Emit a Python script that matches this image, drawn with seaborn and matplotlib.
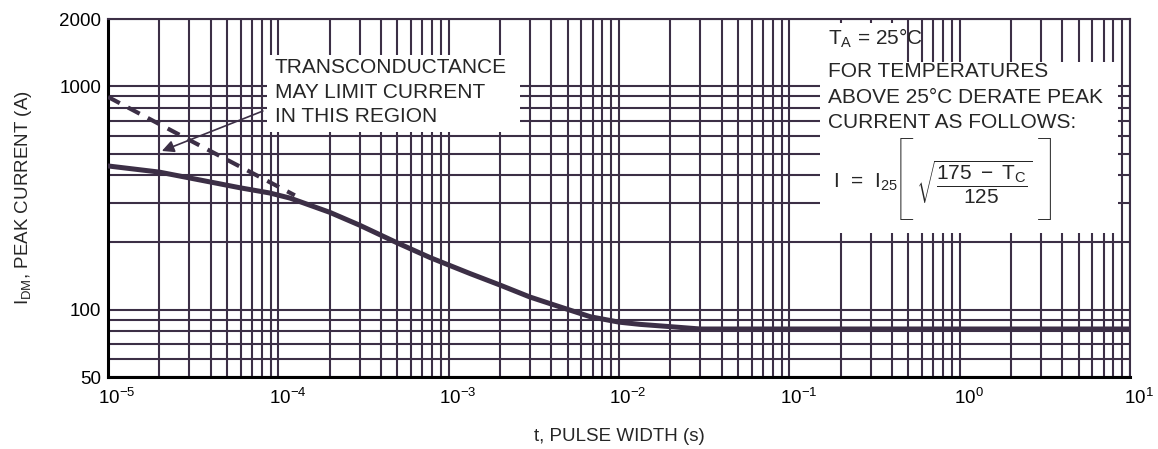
import numpy as np
import seaborn as sns
import matplotlib.pyplot as plt
import matplotlib.transforms as mtransforms
from matplotlib.patches import Rectangle
from matplotlib.ticker import FixedLocator, FixedFormatter, LogLocator, NullFormatter

DARK = '#3c2f46'

# maximum peak current curve
pulse_t = [1e-5, 2e-5, 3e-5, 6e-5, 8.9e-5, 1.17e-4, 2e-4, 3e-4, 5e-4, 7.8e-4,
           1.34e-3, 2e-3, 3e-3, 4.5e-3, 6.8e-3, 1e-2, 1.33e-2, 2e-2, 3e-2, 1e-1, 1.0, 10.0]
peak_i = [440, 413, 389, 351, 333, 316, 273, 239, 199, 171,
          145, 129, 114, 103, 93, 88, 86, 84, 82, 82, 82, 82]

# transconductance limit (dashed)
limit_t = [1e-5, 3e-5, 1.25e-4]
limit_i = [896, 575, 325]

x_major = [1e-5, 1e-4, 1e-3, 1e-2, 1e-1, 1e0, 1e1]
y_major = [50, 100, 1000, 2000]
y_minor = [60, 70, 80, 90, 200, 300, 400, 500, 600, 700, 800, 900]

sns.set_style("white")
plt.rcParams['font.family'] = ['Liberation Sans', 'DejaVu Sans']
plt.rcParams['mathtext.fontset'] = 'custom'
plt.rcParams['mathtext.rm'] = 'Liberation Sans'
plt.rcParams['mathtext.it'] = 'Liberation Sans:italic'
plt.rcParams['mathtext.bf'] = 'Liberation Sans:bold'

fig, ax = plt.subplots(figsize=(11.58, 4.49), dpi=100)
fig.subplots_adjust(left=108 / 1158, right=1130 / 1158, top=1 - 19 / 449, bottom=1 - 377 / 449)

sns.lineplot(x=pulse_t, y=peak_i, ax=ax, color=DARK, lw=3.6, zorder=3)
sns.lineplot(x=limit_t, y=limit_i, ax=ax, color=DARK, lw=3, linestyle=(0, (3.2, 2.2)), zorder=3)

ax.set_xscale('log')
ax.set_yscale('log')
ax.set_xlim(1e-5, 10)
ax.set_ylim(50, 2000)

ax.yaxis.set_major_locator(FixedLocator(y_major))
ax.yaxis.set_major_formatter(FixedFormatter([str(v) for v in y_major]))
ax.yaxis.set_minor_locator(FixedLocator(y_minor))
ax.yaxis.set_minor_formatter(NullFormatter())
ax.xaxis.set_major_locator(FixedLocator(x_major))
ax.xaxis.set_major_formatter(FixedFormatter(
    [r'$\mathdefault{10^{%d}}$' % int(np.log10(v)) for v in x_major]))
ax.xaxis.set_minor_locator(LogLocator(base=10, subs=np.arange(2, 10), numticks=100))
ax.xaxis.set_minor_formatter(NullFormatter())

ax.grid(True, which='both', color=DARK, lw=1.5)
ax.set_axisbelow(True)
ax.tick_params(which='both', length=0, labelsize=13.5, colors='black')
ax.tick_params(axis='x', pad=8)
ax.tick_params(axis='y', pad=5)

for side in ['left', 'bottom']:
    ax.spines[side].set_color('black')
    ax.spines[side].set_linewidth(2.2)
for side in ['top', 'right']:
    ax.spines[side].set_color(DARK)
    ax.spines[side].set_linewidth(1.5)

ax.set_xlabel('t, PULSE WIDTH (s)', fontsize=13.5, va='center')
ax.set_ylabel(r'I$_{\mathrm{DM}}$, PEAK CURRENT (A)', fontsize=13.5, va='center')
ax.xaxis.set_label_coords(0.5, -0.165)
ax.yaxis.set_label_coords(-0.083, 0.5)

# shift the decade labels so the "10" sits on the grid line
offset = mtransforms.ScaledTranslation(9 / 100, 0, fig.dpi_scale_trans)
for lab in ax.get_xticklabels():
    lab.set_transform(lab.get_transform() + offset)

# white backgrounds behind the notes
for x0, y0, x1, y1 in [(0.1556, 0.6844, 0.4031, 0.8994),
                       (0.6967, 0.4022, 0.9883, 0.8799),
                       (0.6967, 0.8799, 0.7798, 0.99)]:
    ax.add_patch(Rectangle((x0, y0), x1 - x0, y1 - y0, transform=ax.transAxes,
                           facecolor='white', edgecolor='none', zorder=2))

# va='baseline' on multi-line text pins the last line's baseline
ax.text(0.1634, 0.7123, 'TRANSCONDUCTANCE\nMAY LIMIT CURRENT\nIN THIS REGION',
        transform=ax.transAxes, fontsize=15, ha='left', va='baseline', linespacing=1.36, zorder=4)
ax.annotate('', xy=(2e-5, 508), xytext=(8.4e-5, 783),
            arrowprops=dict(arrowstyle='-|>', color=DARK, lw=1.2, mutation_scale=18),
            zorder=4)

ax.text(0.7045, 0.9274, r'T$_{\mathrm{A}}$ = 25°C', transform=ax.transAxes,
        fontsize=15, ha='left', va='baseline', zorder=4)
ax.text(0.7045, 0.6947, 'FOR TEMPERATURES\nABOVE 25°C DERATE PEAK\nCURRENT AS FOLLOWS:',
        transform=ax.transAxes, fontsize=15, ha='left', va='baseline', linespacing=1.44, zorder=4)

# derating formula: I = I25 [ sqrt((175 - Tc) / 125) ]
eq_y = 1 - (182 - 19) / 358
br_y = 1 - (184 - 19) / 358
ax.text(0.709, eq_y, r'I  =  I$_{25}$', transform=ax.transAxes,
        fontsize=15, ha='left', va='center', zorder=4)
ax.text(0.7645, br_y, '[', transform=ax.transAxes, family='Lato', fontweight='light',
        fontsize=68, ha='left', va='center', zorder=4)
ax.text(0.9315, br_y, ']', transform=ax.transAxes, family='Lato', fontweight='light',
        fontsize=68, ha='right', va='center', zorder=4)
ax.text(0.7905, eq_y, r'$\sqrt{\dfrac{175\ -\ \mathrm{T}_{\mathrm{C}}}{125}}$',
        transform=ax.transAxes, fontsize=15, ha='left', va='center', zorder=4)

fig.savefig('out.png', dpi=100)
